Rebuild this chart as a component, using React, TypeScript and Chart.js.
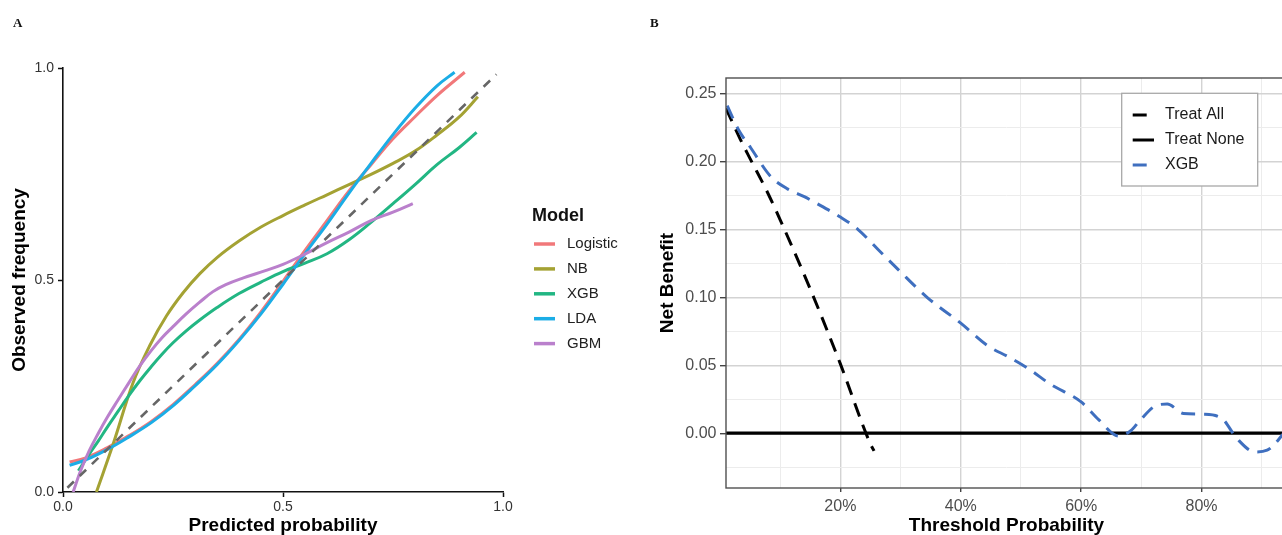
import React, { useEffect, useRef } from 'react';
import { Chart, registerables } from 'chart.js';

Chart.register(...registerables);

const FONT = '"Liberation Sans", Arial, sans-serif';

// ---------- Panel A: calibration curves ----------
const MODEL_NAMES = ['Logistic', 'NB', 'XGB', 'LDA', 'GBM'];
const MODEL_COLORS = ['#F1787A', '#A4A233', '#22B683', '#1BADE6', '#BA80CC'];

const LOGISTIC_X = [0.015, 0.05, 0.1, 0.15, 0.2, 0.25, 0.3, 0.35, 0.4, 0.45, 0.5, 0.55, 0.6, 0.65, 0.7, 0.75, 0.8, 0.85, 0.913];
const LOGISTIC_Y = [0.071, 0.08, 0.104, 0.133, 0.166, 0.206, 0.253, 0.303, 0.36, 0.425, 0.497, 0.57, 0.64, 0.71, 0.772, 0.833, 0.885, 0.935, 0.99];

const NB_X = [0.076, 0.114, 0.159, 0.197, 0.235, 0.273, 0.311, 0.35, 0.4, 0.45, 0.5, 0.55, 0.6, 0.65, 0.7, 0.75, 0.8, 0.85, 0.9, 0.943];
const NB_Y = [0.0, 0.113, 0.257, 0.345, 0.415, 0.47, 0.515, 0.553, 0.592, 0.625, 0.652, 0.677, 0.701, 0.725, 0.749, 0.775, 0.804, 0.842, 0.884, 0.932];

const XGB_X = [0.035, 0.06, 0.08, 0.1, 0.125, 0.15, 0.175, 0.2, 0.225, 0.25, 0.28, 0.31, 0.35, 0.4, 0.45, 0.5, 0.55, 0.6, 0.65, 0.7, 0.75, 0.8, 0.85, 0.9, 0.94];
const XGB_Y = [0.05, 0.09, 0.12, 0.152, 0.19, 0.228, 0.263, 0.295, 0.325, 0.352, 0.38, 0.405, 0.435, 0.468, 0.495, 0.52, 0.54, 0.562, 0.595, 0.636, 0.68, 0.725, 0.772, 0.812, 0.848];

const LDA_X = [0.015, 0.05, 0.1, 0.15, 0.2, 0.25, 0.3, 0.35, 0.4, 0.45, 0.5, 0.55, 0.6, 0.65, 0.7, 0.75, 0.8, 0.85, 0.89];
const LDA_Y = [0.063, 0.075, 0.1, 0.13, 0.163, 0.203, 0.25, 0.3, 0.357, 0.42, 0.49, 0.562, 0.632, 0.705, 0.775, 0.843, 0.905, 0.958, 0.99];

const GBM_X = [0.023, 0.04, 0.06, 0.08, 0.1, 0.125, 0.15, 0.175, 0.2, 0.225, 0.25, 0.28, 0.31, 0.34, 0.37, 0.41, 0.46, 0.5, 0.54, 0.6, 0.65, 0.7, 0.75, 0.795];
const GBM_Y = [0.0, 0.05, 0.098, 0.138, 0.175, 0.217, 0.258, 0.298, 0.333, 0.364, 0.39, 0.42, 0.447, 0.472, 0.489, 0.505, 0.522, 0.537, 0.556, 0.588, 0.613, 0.64, 0.66, 0.68];

const REF_X = [0.01, 0.985];
const REF_Y = [0.01, 0.985];

const A_TICKS = [0, 0.5, 1];

// ---------- Panel B: decision curve ----------
const DCA_NAMES = ['Treat All', 'Treat None', 'XGB'];
const DCA_COLORS = ['#000000', '#000000', '#3F6FBF'];

const THRESH_XGB = [0.012, 0.031, 0.051, 0.084, 0.111, 0.14, 0.161, 0.2, 0.229, 0.263, 0.297, 0.344, 0.4, 0.446, 0.48, 0.514, 0.549, 0.6, 0.629, 0.662, 0.683, 0.698, 0.726, 0.743, 0.77, 0.803, 0.834, 0.859, 0.889, 0.909, 0.934, 0.95];
const NB_XGB = [0.241, 0.223, 0.21, 0.189, 0.18, 0.174, 0.169, 0.159, 0.15, 0.135, 0.12, 0.1, 0.081, 0.064, 0.056, 0.047, 0.036, 0.023, 0.01, -0.002, 0.002, 0.0096, 0.0206, 0.0214, 0.0145, 0.014, 0.0108, -0.004, -0.0138, -0.0125, -0.0015, 0.008];

const THRESH_ALL = [0.01, 0.034, 0.05, 0.078, 0.1, 0.15, 0.2, 0.25, 0.256];
const NB_ALL = [0.239, 0.216, 0.202, 0.178, 0.157, 0.106, 0.051, -0.008, -0.013];

const THRESH_NONE = [0.01, 0.95];
const NB_NONE = [0, 0];

const B_X_TICKS = [0.1, 0.2, 0.3, 0.4, 0.5, 0.6, 0.7, 0.8, 0.9];
const B_Y_TICKS = [-0.025, 0, 0.025, 0.05, 0.075, 0.1, 0.125, 0.15, 0.175, 0.2, 0.225, 0.25];

const pts = (xs: number[], ys: number[]) => xs.map((x, i) => ({ x, y: ys[i] }));
const majorX = (v: number) => Math.round(v * 10) % 2 === 0;
const majorY = (v: number) => Math.round(v * 40) % 2 === 0;

const legendAPlugin = {
  id: 'legendA',
  afterDraw(chart: any) {
    const ctx = chart.ctx;
    ctx.save();
    ctx.textBaseline = 'middle';
    ctx.textAlign = 'left';
    ctx.fillStyle = '#111';
    ctx.font = `bold 18px ${FONT}`;
    ctx.fillText('Model', 532, 216);
    MODEL_NAMES.forEach((name, i) => {
      const y = 244 + i * 24.9;
      ctx.strokeStyle = MODEL_COLORS[i];
      ctx.lineWidth = 3.5;
      ctx.beginPath();
      ctx.moveTo(534, y);
      ctx.lineTo(555, y);
      ctx.stroke();
      ctx.fillStyle = '#222';
      ctx.font = `15px ${FONT}`;
      ctx.fillText(name, 567, y);
    });
    ctx.restore();
  },
};

const panelBPlugin = {
  id: 'panelB',
  afterDraw(chart: any) {
    const ctx = chart.ctx;
    const a = chart.chartArea;
    ctx.save();
    ctx.strokeStyle = '#505050';
    ctx.lineWidth = 1.4;
    ctx.strokeRect(a.left, a.top, a.right - a.left, a.bottom - a.top);
    // legend box
    const lx = 481.7, ly = 93.3, lw = 136, lh = 92.7;
    ctx.fillStyle = '#fff';
    ctx.fillRect(lx, ly, lw, lh);
    ctx.strokeStyle = '#A8A8A8';
    ctx.lineWidth = 1.3;
    ctx.strokeRect(lx, ly, lw, lh);
    const dashes = [[14, 9], [], [14, 9]];
    DCA_NAMES.forEach((name, i) => {
      const y = 115 + i * 25;
      ctx.strokeStyle = DCA_COLORS[i];
      ctx.lineWidth = 3;
      ctx.setLineDash(dashes[i]);
      ctx.beginPath();
      ctx.moveTo(492.7, y);
      ctx.lineTo(514, y);
      ctx.stroke();
      ctx.setLineDash([]);
      ctx.fillStyle = '#1A1A1A';
      ctx.font = `16px ${FONT}`;
      ctx.textBaseline = 'middle';
      ctx.fillText(name, 525, y);
    });
    ctx.restore();
  },
};

function PanelA() {
  const ref = useRef<HTMLCanvasElement>(null);
  useEffect(() => {
    const series = [
      { x: LOGISTIC_X, y: LOGISTIC_Y, order: 5 },
      { x: NB_X, y: NB_Y, order: 4 },
      { x: XGB_X, y: XGB_Y, order: 3 },
      { x: LDA_X, y: LDA_Y, order: 2 },
      { x: GBM_X, y: GBM_Y, order: 1 },
    ];
    const datasets: any[] = series.map((s, i) => ({
      label: MODEL_NAMES[i],
      data: pts(s.x, s.y),
      borderColor: MODEL_COLORS[i],
      borderWidth: 3,
      pointRadius: 0,
      tension: 0.4,
      order: s.order,
    }));
    datasets.push({
      label: 'Ideal',
      data: pts(REF_X, REF_Y),
      borderColor: '#666666',
      borderWidth: 2.6,
      borderDash: [9, 8],
      pointRadius: 0,
      order: 0,
    });
    const tickFont = { size: 14, family: FONT };
    const titleFont = { size: 19, weight: 'bold' as const, family: FONT, lineHeight: 1 };
    const chart = new Chart(ref.current!, {
      type: 'line',
      data: { datasets },
      plugins: [legendAPlugin],
      options: {
        animation: false,
        responsive: false,
        layout: { padding: { top: 68, right: 137, bottom: 0, left: 0 } },
        plugins: { legend: { display: false }, tooltip: { enabled: false } },
        scales: {
          x: {
            type: 'linear',
            min: 0,
            max: 1,
            afterBuildTicks: (s: any) => { s.ticks = A_TICKS.map((v) => ({ value: v })); },
            afterFit: (s: any) => { s.height = 43; },
            ticks: { callback: (v: any) => Number(v).toFixed(1), font: tickFont, color: '#333', padding: 2, maxRotation: 0, autoSkip: false },
            grid: { drawOnChartArea: false, drawTicks: true, tickLength: 5, tickColor: '#111', tickWidth: 1.5 },
            border: { display: true, color: '#111', width: 1.6 },
            title: { display: true, text: 'Predicted probability', font: titleFont, color: '#000', padding: { top: 0, bottom: 0 } },
          },
          y: {
            type: 'linear',
            min: 0,
            max: 1,
            afterBuildTicks: (s: any) => { s.ticks = A_TICKS.map((v) => ({ value: v })); },
            afterFit: (s: any) => { s.width = 63; },
            ticks: { callback: (v: any) => Number(v).toFixed(1), font: tickFont, color: '#333', padding: 4, autoSkip: false },
            grid: { drawOnChartArea: false, drawTicks: true, tickLength: 5, tickColor: '#111', tickWidth: 1.5 },
            border: { display: true, color: '#111', width: 1.6 },
            title: { display: true, text: 'Observed frequency', font: titleFont, color: '#000', padding: { top: 10.5, bottom: 0 } },
          },
        },
      } as any,
    });
    return () => chart.destroy();
  }, []);
  return <canvas ref={ref} width={640} height={535} style={{ position: 'absolute', left: 0, top: 0, width: 640, height: 535 }} />;
}

function PanelB() {
  const ref = useRef<HTMLCanvasElement>(null);
  useEffect(() => {
    const datasets: any[] = [
      {
        label: 'XGB',
        data: pts(THRESH_XGB, NB_XGB),
        borderColor: DCA_COLORS[2],
        borderWidth: 3,
        borderDash: [14, 9],
        pointRadius: 0,
        tension: 0.4,
        cubicInterpolationMode: 'monotone',
        order: 0,
      },
      {
        label: 'Treat All',
        data: pts(THRESH_ALL, NB_ALL),
        borderColor: DCA_COLORS[0],
        borderWidth: 3,
        borderDash: [14, 9],
        pointRadius: 0,
        tension: 0.3,
        cubicInterpolationMode: 'monotone',
        order: 1,
      },
      {
        label: 'Treat None',
        data: pts(THRESH_NONE, NB_NONE),
        borderColor: DCA_COLORS[1],
        borderWidth: 3.2,
        pointRadius: 0,
        order: 2,
      },
    ];
    const tickFont = { size: 16, family: FONT };
    const titleFont = { size: 19, weight: 'bold' as const, family: FONT, lineHeight: 1 };
    const chart = new Chart(ref.current!, {
      type: 'line',
      data: { datasets },
      plugins: [panelBPlugin],
      options: {
        animation: false,
        responsive: false,
        layout: { padding: { top: 78, right: 53, bottom: 0, left: 0 } },
        plugins: { legend: { display: false }, tooltip: { enabled: false } },
        scales: {
          x: {
            type: 'linear',
            min: 0.01,
            max: 0.942,
            afterBuildTicks: (s: any) => { s.ticks = B_X_TICKS.map((v) => ({ value: v })); },
            afterFit: (s: any) => { s.height = 47; },
            ticks: {
              callback: (v: any) => (majorX(Number(v)) ? Math.round(Number(v) * 100) + '%' : ''),
              font: tickFont, color: '#4D4D4D', padding: 5, maxRotation: 0, autoSkip: false,
            },
            grid: {
              color: (c: any) => (majorX(c.tick.value) ? '#D3D3D3' : '#ECECEC'),
              lineWidth: (c: any) => (majorX(c.tick.value) ? 1.4 : 1),
              tickColor: (c: any) => (majorX(c.tick.value) ? '#444' : 'rgba(0,0,0,0)'),
              tickLength: 4,
              drawTicks: true,
            },
            border: { display: false },
            title: { display: true, text: 'Threshold Probability', font: titleFont, color: '#000', padding: { top: 0, bottom: 0 } },
          },
          y: {
            type: 'linear',
            min: -0.0403,
            max: 0.2613,
            afterBuildTicks: (s: any) => { s.ticks = B_Y_TICKS.map((v) => ({ value: v })); },
            afterFit: (s: any) => { s.width = 86; },
            ticks: {
              callback: (v: any) => (majorY(Number(v)) ? Number(v).toFixed(2) : ''),
              font: tickFont, color: '#4D4D4D', padding: 3.5, autoSkip: false,
            },
            grid: {
              color: (c: any) => (majorY(c.tick.value) ? '#D3D3D3' : '#ECECEC'),
              lineWidth: (c: any) => (majorY(c.tick.value) ? 1.4 : 1),
              tickColor: (c: any) => (majorY(c.tick.value) ? '#444' : 'rgba(0,0,0,0)'),
              tickLength: 6,
              drawTicks: true,
            },
            border: { display: false },
            title: { display: true, text: 'Net Benefit', font: titleFont, color: '#000', padding: { top: 18.5, bottom: 0 } },
          },
        },
      } as any,
    });
    return () => chart.destroy();
  }, []);
  return <canvas ref={ref} width={700} height={535} style={{ position: 'absolute', left: 640, top: 0, width: 700, height: 535 }} />;
}

export default function App() {
  return (
    <div style={{ position: 'fixed', left: 0, top: 0, width: 1282, height: 535, overflow: 'hidden', background: '#fff' }}>
      <PanelA />
      <PanelB />
      <div style={{ position: 'absolute', left: 13, top: 15, font: 'bold 13px "Liberation Serif", serif', color: '#111' }}>A</div>
      <div style={{ position: 'absolute', left: 650, top: 15, font: 'bold 13px "Liberation Serif", serif', color: '#111' }}>B</div>
    </div>
  );
}
